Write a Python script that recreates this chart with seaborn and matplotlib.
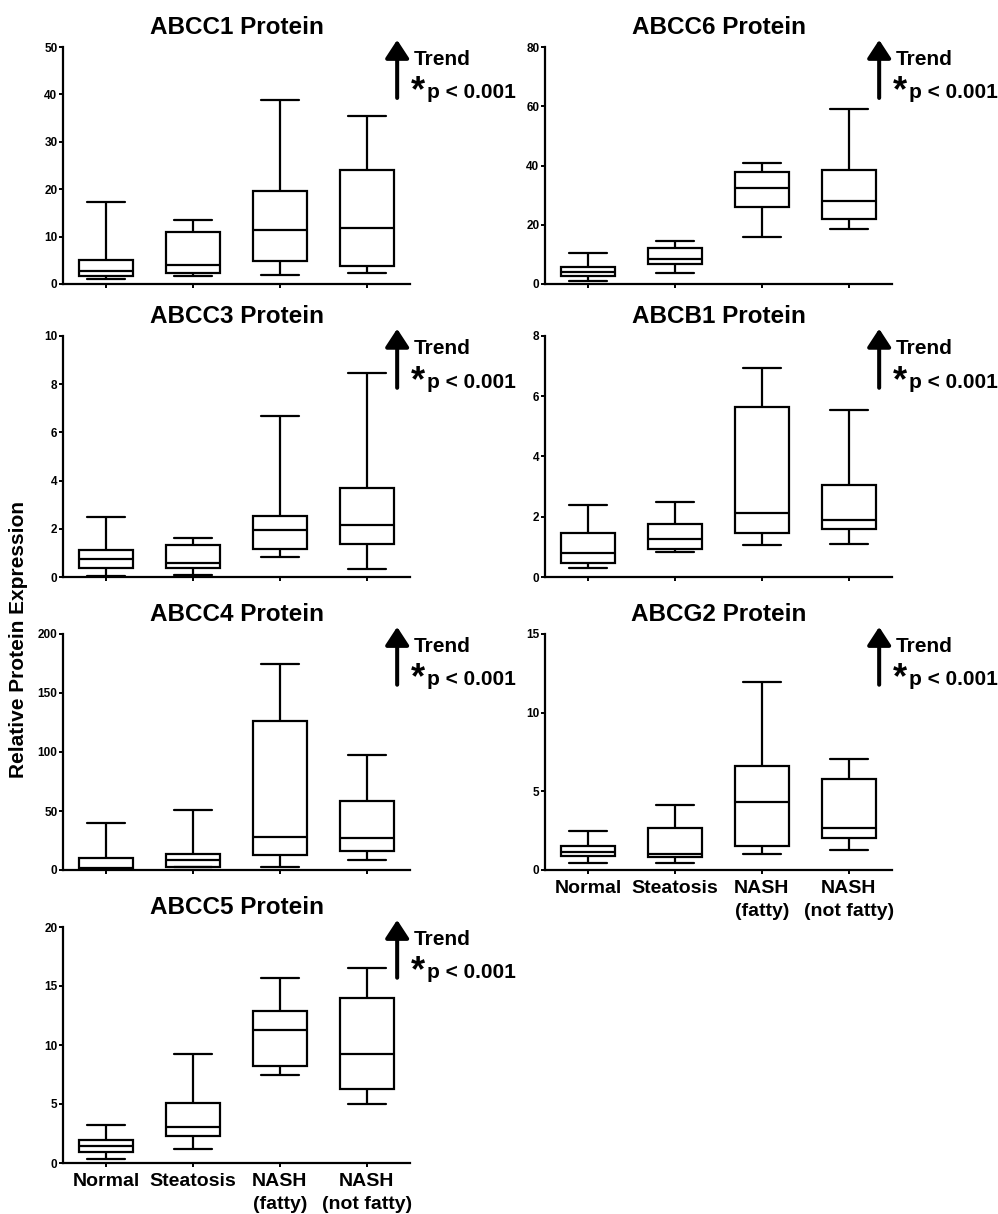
import pandas as pd
import matplotlib
matplotlib.use("Agg")
import matplotlib.pyplot as plt
import seaborn as sns

# groups on the x axis
groups = ['Normal', 'Steatosis', 'NASH\n(fatty)', 'NASH\n(not fatty)']

# each box: [min, q1, median, q3, max]
abcc1 = [[1.0, 1.7, 2.8, 5.1, 17.2], [1.7, 2.25, 4.0, 11.0, 13.6],
         [2.0, 4.85, 11.3, 19.7, 38.9], [2.3, 3.9, 11.8, 24.1, 35.4]]
abcc6 = [[1.0, 2.7, 4.2, 5.8, 10.3], [3.6, 6.75, 8.4, 12.1, 14.6],
         [15.7, 26.1, 32.4, 37.8, 40.9], [18.4, 22.0, 27.9, 38.6, 59.1]]
abcc3 = [[0.06, 0.39, 0.76, 1.11, 2.48], [0.1, 0.37, 0.58, 1.32, 1.63],
         [0.82, 1.16, 1.94, 2.53, 6.69], [0.35, 1.37, 2.15, 3.70, 8.48]]
abcb1 = [[0.30, 0.47, 0.79, 1.45, 2.39], [0.83, 0.93, 1.27, 1.76, 2.48],
         [1.05, 1.45, 2.13, 5.65, 6.95], [1.10, 1.60, 1.88, 3.06, 5.54]]
abcc4 = [[0.5, 1.1, 1.4, 10.2, 39.6], [2.3, 2.8, 8.2, 13.6, 50.9],
         [2.5, 12.4, 28.3, 126.4, 174.3], [8.2, 16.1, 26.9, 58.6, 97.6]]
abcg2 = [[0.42, 0.87, 1.14, 1.52, 2.49], [0.42, 0.85, 1.04, 2.70, 4.14],
         [1.01, 1.52, 4.31, 6.59, 11.92], [1.27, 2.03, 2.68, 5.81, 7.08]]
abcc5 = [[0.37, 0.93, 1.44, 1.94, 3.18], [1.15, 2.31, 3.04, 5.10, 9.27],
         [7.44, 8.25, 11.27, 12.85, 15.66], [4.99, 6.31, 9.27, 14.0, 16.56]]

titles = ['ABCC1 Protein', 'ABCC6 Protein', 'ABCC3 Protein', 'ABCB1 Protein',
          'ABCC4 Protein', 'ABCG2 Protein', 'ABCC5 Protein']
panel_data = [abcc1, abcc6, abcc3, abcb1, abcc4, abcg2, abcc5]
y_max = [50, 80, 10, 8, 200, 15, 20]
y_step = [10, 20, 2, 2, 50, 5, 5]
show_xlabels = [False, False, False, False, False, True, True]

sns.set_style('ticks')
plt.rcParams['font.family'] = ['Liberation Sans', 'DejaVu Sans']
plt.rcParams['font.weight'] = 'bold'
for key in ['text.color', 'axes.labelcolor', 'xtick.color', 'ytick.color', 'axes.edgecolor']:
    plt.rcParams[key] = 'black'

W, H = 998, 1214
fig = plt.figure(figsize=(W / 100, H / 100), dpi=100)

# axes placement in pixels: (left, top, bottom)
col_left = [63, 545]
rows = [(47, 284), (336, 577), (634, 870), (927, 1163)]
ax_w = 347

for i, (title, boxes) in enumerate(zip(titles, panel_data)):
    col = i % 2
    top, bot = rows[i // 2]
    ax = fig.add_axes([col_left[col] / W, 1 - bot / H, ax_w / W, (bot - top) / H])

    # five values per group give exactly the box stats with whis=(0, 100)
    df = pd.DataFrame([(g, v) for g, b in zip(groups, boxes) for v in b],
                      columns=['group', 'value'])
    sns.boxplot(data=df, x='group', y='value', order=groups, whis=(0, 100),
                width=0.62, color='white', linecolor='black', linewidth=1.6,
                fliersize=0, ax=ax)

    # wider caps like the original
    for cont in ax.containers:
        if hasattr(cont, 'caps'):
            for cap in cont.caps:
                xs = cap.get_xdata()
                mid = (xs[0] + xs[1]) / 2
                cap.set_xdata([mid - 0.22, mid + 0.22])

    ax.set_xlim(-0.5, 3.5)
    ax.set_ylim(0, y_max[i])
    ax.set_yticks(range(0, y_max[i] + 1, y_step[i]))
    ax.set_xlabel('')
    ax.set_ylabel('')
    sns.despine(ax=ax)
    for sp in ['left', 'bottom']:
        ax.spines[sp].set_linewidth(1.6)
    ax.tick_params(axis='y', length=3, width=1.4, labelsize=8.5, pad=1)
    ax.tick_params(axis='x', length=3, width=1.4, labelsize=14, pad=4)
    if show_xlabels[i]:
        for lbl in ax.get_xticklabels():
            lbl.set_fontweight('bold')
            lbl.set_linespacing(1.45)
    else:
        ax.set_xticklabels([])
    for lbl in ax.get_yticklabels():
        lbl.set_fontweight('bold')

    ax.set_title(title, fontsize=17.5, fontweight='bold', pad=9)

    # trend arrow and p-value note
    ax.annotate('', xy=(0.963, 1.03), xytext=(0.963, 0.785), xycoords='axes fraction',
                arrowprops=dict(arrowstyle='-|>,head_length=0.55,head_width=0.36',
                                lw=2.9, color='black', mutation_scale=20,
                                shrinkA=0, shrinkB=0),
                annotation_clip=False)
    ax.text(1.01, 0.924, 'Trend', transform=ax.transAxes, fontsize=15,
            fontweight='bold', va='baseline', ha='left')
    ax.text(1.003, 0.772, '*', transform=ax.transAxes, fontsize=26,
            fontweight='bold', va='baseline', ha='left')
    ax.text(1.05, 0.785, 'p < 0.001', transform=ax.transAxes, fontsize=15,
            fontweight='bold', va='baseline', ha='left')

fig.text(19 / W, 1 - 640 / H, 'Relative Protein Expression', rotation=90,
         fontsize=15, fontweight='bold', ha='center', va='center')

fig.savefig('out.png', dpi=100)
